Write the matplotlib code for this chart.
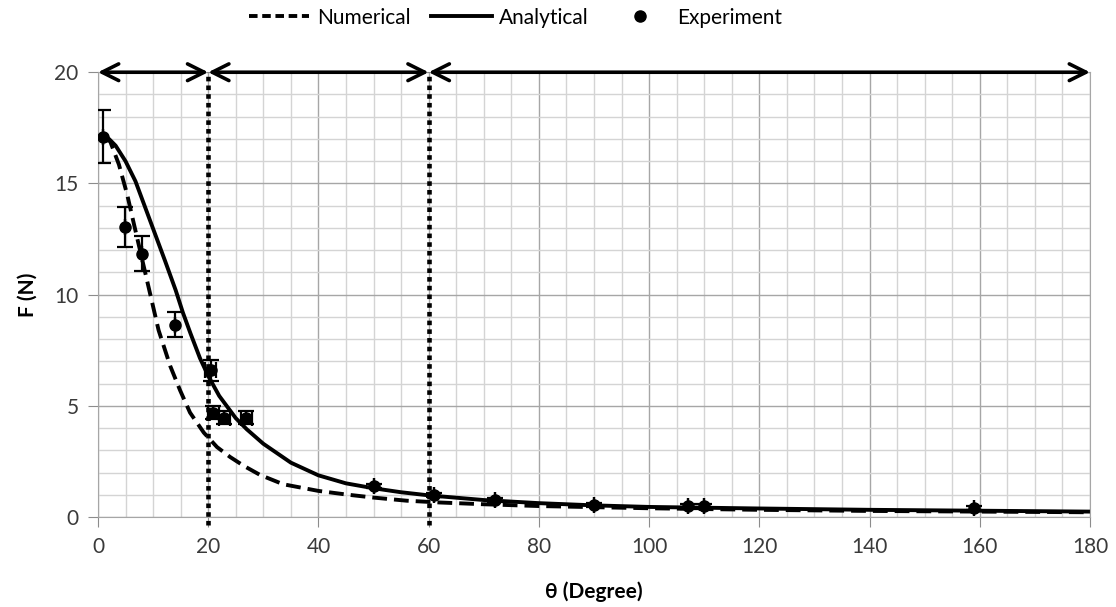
import matplotlib.pyplot as plt
from matplotlib.lines import Line2D
from matplotlib.ticker import MultipleLocator

plt.rcParams['font.family'] = ['Lato', 'DejaVu Sans']

# analytical curve
theta_an = [1, 2, 3.2, 5, 6.8, 8.6, 10.4, 12.2, 14.1, 15.4, 16.8, 18.5, 20, 22, 25, 27,
            30, 35, 40, 45, 50, 55, 60, 70, 80, 90, 100, 120, 140, 160, 180]
F_an = [17.1, 17.0, 16.7, 16.0, 15.1, 13.9, 12.7, 11.5, 10.2, 9.2, 8.25, 7.15, 6.35,
        5.45, 4.45, 3.95, 3.3, 2.45, 1.88, 1.52, 1.3, 1.12, 0.98, 0.77, 0.63, 0.53,
        0.46, 0.39, 0.33, 0.29, 0.25]

# numerical curve
theta_num = [1, 2.2, 3.8, 5.3, 6.5, 8, 9.5, 11, 13.1, 14.9, 16.7, 19.2, 21.6, 24, 26.5,
             29.4, 33.6, 40, 45, 50, 56, 62, 70, 80, 100, 120, 140, 160, 180]
F_num = [17.0, 16.9, 15.85, 14.5, 13.2, 11.6, 10.0, 8.4, 6.8, 5.7, 4.7, 3.8, 3.15, 2.7,
         2.3, 1.9, 1.48, 1.18, 1.02, 0.88, 0.74, 0.66, 0.58, 0.5, 0.4, 0.33, 0.28, 0.25,
         0.22]

# experiment
theta_exp = [1, 4.85, 8, 14, 20.5, 20.9, 22.9, 26.9, 50, 60.9, 72, 90, 107, 110, 159]
F_exp = [17.1, 13.04, 11.85, 8.65, 6.6, 4.7, 4.47, 4.47, 1.4, 1.0, 0.78, 0.55, 0.48,
         0.48, 0.42]
F_err = [1.2, 0.9, 0.8, 0.57, 0.48, 0.3, 0.3, 0.3, 0.1, 0.1, 0.1, 0.1, 0.1, 0.1, 0.1]
theta_err = [0, 0, 0, 0, 1.0, 1.0, 1.0, 1.0, 0, 0, 0, 0, 0, 0, 0]

# region boundaries
bounds = [0, 20, 60, 180]

fig = plt.figure(figsize=(11.16, 6.07), dpi=100)
ax = fig.add_axes([0.0878, 0.148, 0.8889, 0.733])

ax.plot(theta_num, F_num, color='black', lw=2.8, ls=(0, (3.8, 1.8)), label='Numerical')
ax.plot(theta_an, F_an, color='black', lw=2.8, label='Analytical')
ax.errorbar(theta_exp, F_exp, yerr=F_err, xerr=theta_err, fmt='o', color='black',
            ms=8, capsize=6, elinewidth=1.6, capthick=1.6, zorder=4)

for b in bounds[1:3]:
    ax.plot([b, b], [-0.35, 20], color='black', lw=3.3, ls=(0, (1, 0.9)),
            dash_capstyle='butt', clip_on=False, zorder=3)

for a, b in zip(bounds[:-1], bounds[1:]):
    ax.annotate('', xy=(b, 20), xytext=(a, 20),
                arrowprops=dict(arrowstyle='<->', color='black', lw=2.6,
                                mutation_scale=30, shrinkA=0, shrinkB=0),
                annotation_clip=False, zorder=5)

ax.set_xlim(0, 180)
ax.set_ylim(0, 20)
ax.xaxis.set_major_locator(MultipleLocator(20))
ax.xaxis.set_minor_locator(MultipleLocator(5))
ax.yaxis.set_major_locator(MultipleLocator(5))
ax.yaxis.set_minor_locator(MultipleLocator(1))
ax.grid(which='major', color='#a6a6a6', lw=1.0)
ax.grid(which='minor', color='#d4d4d4', lw=1.0)
ax.set_axisbelow(True)
ax.tick_params(which='major', length=7, color='#8c8c8c', labelsize=15,
               labelcolor='#3a3a3a', pad=7)
ax.tick_params(which='minor', length=0)
for s in ax.spines.values():
    s.set_color('#a6a6a6')

ax.set_xlabel('θ (Degree)', fontsize=15, fontweight='bold', labelpad=18)
ax.set_ylabel('F (N)', fontsize=15, fontweight='bold', labelpad=12)

handles = [Line2D([], [], color='black', lw=2.8, ls=(0, (2.2, 1.2))),
           Line2D([], [], color='black', lw=2.8),
           Line2D([], [], color='black', marker='o', ls='none', ms=8)]
fig.legend(handles, ['Numerical', 'Analytical', 'Experiment'], loc='center',
           bbox_to_anchor=(0.462, 0.971), ncol=3, frameon=False, fontsize=15,
           handlelength=2.9, handletextpad=0.35, columnspacing=1.0)

fig.savefig('out.png', dpi=100)
